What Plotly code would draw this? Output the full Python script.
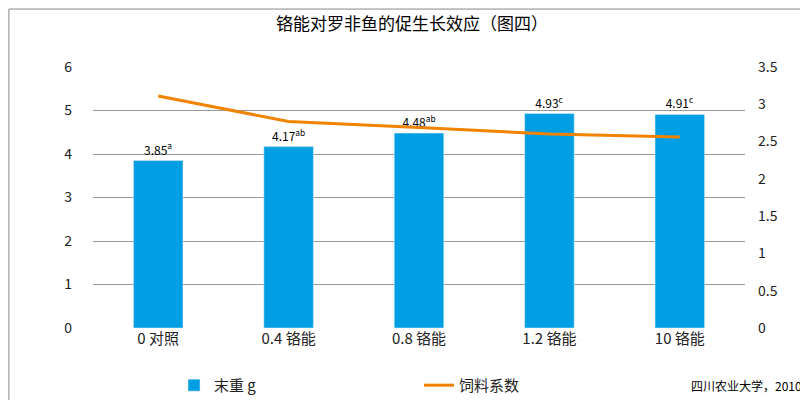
import plotly.graph_objects as go

cats = ["0 对照", "0.4 铬能", "0.8 铬能", "1.2 铬能", "10 铬能"]
weight = [3.85, 4.17, 4.48, 4.93, 4.91]
letters = ["a", "ab", "ab", "c", "c"]
fcr = [3.11, 2.77, 2.69, 2.60, 2.56]

font = "Noto Sans CJK SC"
fig = go.Figure()
fig.add_trace(go.Bar(x=cats, y=weight, name="末重 g", marker_color="#009FE3", width=0.38,
                     text=[f"{v:.2f}<sup>{l}</sup>" for v, l in zip(weight, letters)],
                     textposition="outside", textfont=dict(size=12, color="#000"), cliponaxis=False))
fig.add_trace(go.Scatter(x=cats, y=fcr, name="饲料系数", yaxis="y2", mode="lines",
                         line=dict(color="#F08300", width=3)))
fig.update_layout(
    width=808, height=400, plot_bgcolor="white", paper_bgcolor="white",
    font=dict(family=font, size=14, color="#222"),
    title=dict(text="铬能对罗非鱼的促生长效应（图四）", x=0.5, y=0.96, xanchor="center", yanchor="middle",
               yref="container", automargin=False, font=dict(size=17, color="#000")),
    margin=dict(l=85, r=71, t=59, b=80, autoexpand=False),
    xaxis=dict(showline=False, ticks="", tickfont=dict(size=15), automargin=False),
    yaxis=dict(range=[0, 6], dtick=1, gridcolor="#999", zeroline=True, zerolinecolor="#999",
               tickfont=dict(size=14), ticklabelstandoff=20, automargin=False),
    yaxis2=dict(range=[0, 3.5], dtick=0.5, overlaying="y", side="right", showgrid=False,
                tickfont=dict(size=14), ticklabelstandoff=12, automargin=False),
    legend=dict(orientation="h", x=0.5, xanchor="center", y=-0.22, yanchor="middle",
                font=dict(size=15), entrywidthmode="pixels", entrywidth=200),
    showlegend=True,
    shapes=[dict(type="rect", xref="paper", yref="paper", x0=-0.129, x1=1.106, y0=-0.299, y1=1.222,
                 line=dict(color="#888", width=1), layer="above")],
    annotations=[dict(text="四川农业大学，2010", xref="paper", yref="paper", x=1.09, y=-0.22,
                      xanchor="right", yanchor="middle", showarrow=False, font=dict(size=12, color="#000"))],
)
fig.write_html("out.html")
